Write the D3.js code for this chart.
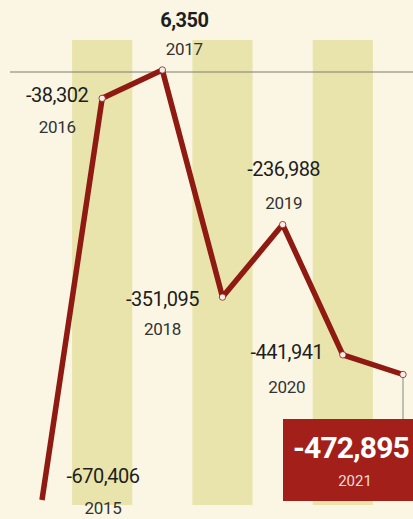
<!DOCTYPE html>
<html>
<head>
<meta charset="utf-8">
<script src="https://cdn.jsdelivr.net/npm/d3@7"></script>
<style>
  html, body { margin: 0; padding: 0; background: #faf6e3; }
  svg { display: block; }
  text { font-family: "Roboto", "Liberation Sans", sans-serif; }
</style>
</head>
<body>
<svg id="chart" width="413" height="519"></svg>
<script>
const years = ["2015", "2016", "2017", "2018", "2019", "2020", "2021"];
const values = [-670406, -38302, 6350, -351095, -236988, -441941, -472895];
const valueLabels = ["-670,406", "-38,302", "6,350", "-351,095", "-236,988", "-441,941", "-472,895"];

const W = 413, H = 519;
const svg = d3.select("#chart");

// layout of labels relative to each point (drawing config)
const labelLayout = [
  { dx: 61, vy: -24, yy: 8 },
  { dx: -45, vy: -3, yy: 29 },
  { dx: 22, vy: -50, yy: -21 },
  { dx: -60, vy: 2, yy: 32 },
  { dx: 1, vy: -56, yy: -22 },
  { dx: -56, vy: -3, yy: 32 }
];

const x = d3.scalePoint().domain(years).range([42, 403]);
const y = d3.scaleLinear().domain([-670406, 0]).range([500, 74]);
const step = x.step();

svg.append("rect").attr("width", W).attr("height", H).attr("fill", "#faf6e3");

// stripes behind alternate years
svg.append("g").selectAll("rect")
  .data(years.filter((d, i) => i % 2 === 1))
  .join("rect")
  .attr("x", d => x(d) - step / 2)
  .attr("y", 40)
  .attr("width", step)
  .attr("height", 465)
  .attr("fill", "#e9e4ac");

// zero line
svg.append("line")
  .attr("x1", 10).attr("x2", W)
  .attr("y1", y(0) - 2).attr("y2", y(0) - 2)
  .attr("stroke", "#7a7a70").attr("stroke-width", 1.2);

const pts = years.map((yr, i) => ({ yr, v: values[i], lab: valueLabels[i], i }));

// leader line for 2021
const last = pts[pts.length - 1];
svg.append("line")
  .attr("x1", x(last.yr)).attr("x2", x(last.yr))
  .attr("y1", y(last.v) + 3).attr("y2", 420)
  .attr("stroke", "#9a9a90").attr("stroke-width", 1.2);

// line
svg.append("path")
  .datum(pts)
  .attr("fill", "none")
  .attr("stroke", "#8e1a12")
  .attr("stroke-width", 5.5)
  .attr("stroke-linejoin", "round")
  .attr("d", d3.line().x(d => x(d.yr)).y(d => y(d.v)));

// markers
svg.append("g").selectAll("circle")
  .data(pts.filter(d => d.i > 0))
  .join("circle")
  .attr("cx", d => x(d.yr))
  .attr("cy", d => y(d.v))
  .attr("r", 3.2)
  .attr("fill", "#f8eded")
  .attr("stroke", "#8e1a12")
  .attr("stroke-width", 0.8);

// labels
const lg = svg.append("g");
pts.slice(0, 6).forEach(d => {
  const L = labelLayout[d.i];
  const cx = x(d.yr) + L.dx, cy = y(d.v);
  lg.append("text")
    .attr("x", cx).attr("y", cy + L.vy)
    .attr("text-anchor", "middle").attr("dominant-baseline", "central")
    .attr("font-size", 20).attr("fill", "#1e1e1e")
    .attr("font-weight", d.i === 2 ? "bold" : "normal")
    .attr("letter-spacing", -0.5)
    .text(d.lab);
  lg.append("text")
    .attr("x", cx).attr("y", cy + L.yy)
    .attr("text-anchor", "middle").attr("dominant-baseline", "central")
    .attr("font-size", 17).attr("fill", "#333333")
    .attr("letter-spacing", -0.3)
    .text(d.yr);
});

// highlighted 2021 box
const bx = 283, by = 419, bw = 146, bh = 82;
svg.append("rect")
  .attr("x", bx).attr("y", by).attr("width", bw).attr("height", bh)
  .attr("fill", "#a3201a");
svg.append("text")
  .attr("x", 351).attr("y", 447)
  .attr("text-anchor", "middle").attr("dominant-baseline", "central")
  .attr("font-size", 30).attr("font-weight", "bold").attr("fill", "#ffffff")
  .attr("letter-spacing", -0.8)
  .text(last.lab);
svg.append("text")
  .attr("x", 355).attr("y", 481)
  .attr("text-anchor", "middle").attr("dominant-baseline", "central")
  .attr("font-size", 15).attr("fill", "#f3dcd6")
  .text(last.yr);
</script>
</body>
</html>
